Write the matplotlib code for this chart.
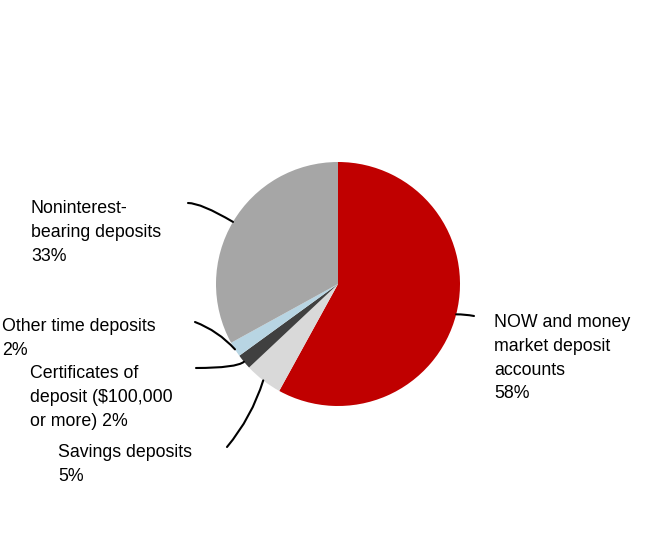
import numpy as np
import matplotlib
matplotlib.use("Agg")
import matplotlib.pyplot as plt

categories = ["NOW and money\nmarket deposit\naccounts", "Savings deposits",
              "Certificates of\ndeposit ($100,000\nor more)", "Other time deposits",
              "Noninterest-\nbearing deposits"]
values = [58, 5, 2, 2, 33]
label_text = ["NOW and money\nmarket deposit\naccounts\n58%",
              "Savings deposits\n5%",
              "Certificates of\ndeposit ($100,000\nor more) 2%",
              "Other time deposits\n2%",
              "Noninterest-\nbearing deposits\n33%"]
colors = ["#C00000", "#D9D9D9", "#404040", "#B8D5E3", "#A6A6A6"]

plt.rcParams['font.family'] = ['Liberation Sans', 'DejaVu Sans']

W, H = 666, 560
fig = plt.figure(figsize=(W / 100, H / 100), dpi=100)
cx, cy, R = 338, 284, 122
ax = fig.add_axes([(cx - R) / W, (H - cy - R) / H, 2 * R / W, 2 * R / H])
wedges, _ = ax.pie(values, colors=colors, startangle=90, counterclock=False,
                   radius=1, wedgeprops=dict(linewidth=0))
ax.set_xlim(-1, 1)
ax.set_ylim(-1, 1)
ax.set_aspect('equal')
ax.axis('off')

# layout: text top-left (pixels), connector text-end (pixels), connection style
text_pos = [(494, 314), (58, 444), (30, 365), (2, 318), (31, 200)]
line_end = [(474, 316), (227, 447), (196, 368), (195, 322), (188, 203)]
styles = ["arc3,rad=0.05", "arc3,rad=0.1", None, "arc3,rad=-0.12", None]

for w, txt, tp, le, st in zip(wedges, label_text, text_pos, line_end, styles):
    mid_deg = (w.theta1 + w.theta2) / 2
    mid = np.deg2rad(mid_deg)
    anchor = (np.cos(mid), np.sin(mid))
    ex = ((le[0] - cx) / R, (cy - le[1]) / R)
    if st is None:
        st = f"angle3,angleA=0,angleB={mid_deg:.1f}"
    ax.annotate('', xy=anchor, xytext=ex, xycoords='data', textcoords='data',
                arrowprops=dict(arrowstyle='-', color='black', lw=1.5,
                                shrinkA=0, shrinkB=0, connectionstyle=st),
                annotation_clip=False)
    fig.text(tp[0] / W, 1 - tp[1] / H, txt, ha='left', va='top',
             fontsize=12.8, linespacing=1.52, color='black')

fig.savefig("out.png", dpi=100)
